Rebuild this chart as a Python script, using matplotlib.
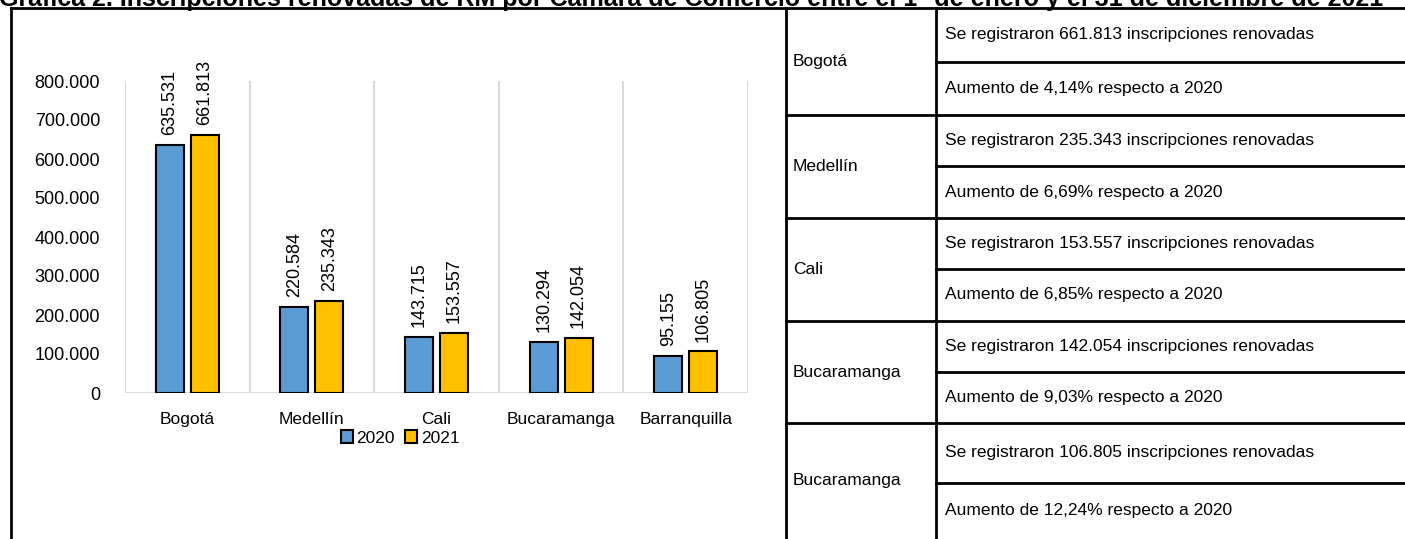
import matplotlib
matplotlib.use('Agg')
import matplotlib.pyplot as plt

plt.rcParams['font.family'] = ['Liberation Sans', 'DejaVu Sans']

cities = ['Bogotá', 'Medellín', 'Cali', 'Bucaramanga', 'Barranquilla']
values_2020 = [635531, 220584, 143715, 130294, 95155]
values_2021 = [661813, 235343, 153557, 142054, 106805]
y_ticks = [0, 100000, 200000, 300000, 400000, 500000, 600000, 700000, 800000]

table_cities = ['Bogotá', 'Medellín', 'Cali', 'Bucaramanga', 'Bucaramanga']
table_totals = ['661.813', '235.343', '153.557', '142.054', '106.805']
table_pcts = ['4,14', '6,69', '6,85', '9,03', '12,24']

title = ('Gráfica 2. Inscripciones renovadas de RM por Cámara de Comercio '
         'entre el 1° de enero y el 31 de diciembre de 2021')

W, H = 1405, 539
blue = '#5B9BD5'
yellow = '#FFC000'


def fmt(v):
    return f'{v:,}'.replace(',', '.')


fig = plt.figure(figsize=(W / 100, H / 100), dpi=100)

# overlay in pixel coordinates for the frame and the table
ov = fig.add_axes([0, 0, 1, 1])
ov.set_xlim(0, W)
ov.set_ylim(H, 0)
ov.axis('off')

# the title is cut at the top edge in the original
ov.text(-1, 6, title, fontsize=18, fontweight='bold', ha='left', va='baseline')

lw = 2
ov.plot([11, W], [8, 8], color='black', lw=lw)
ov.plot([11, 11], [8, H + 5], color='black', lw=lw)
ov.plot([786, 786], [8, H + 5], color='black', lw=lw)
ov.plot([936, 936], [8, H + 5], color='black', lw=lw)

row_edges = [8, 115, 218, 321, 423, 560]
row_splits = [62, 166, 269, 372, 483]
for i in range(len(table_cities)):
    top, bot, mid = row_edges[i], row_edges[i + 1], row_splits[i]
    if i > 0:
        ov.plot([786, W], [top, top], color='black', lw=lw)
    ov.plot([936, W], [mid, mid], color='black', lw=lw)
    cy = (top + min(bot, H)) / 2
    ov.text(793, cy, table_cities[i], fontsize=12.5, va='center', ha='left')
    ov.text(945, (top + mid) / 2, f'Se registraron {table_totals[i]} inscripciones renovadas',
            fontsize=12.5, va='center', ha='left')
    ov.text(945, (mid + min(bot, H)) / 2, f'Aumento de {table_pcts[i]}% respecto a 2020',
            fontsize=12.5, va='center', ha='left')

# bar chart
ax = fig.add_axes([125 / W, 1 - 393 / H, (748 - 125) / W, (393 - 81) / H])
x = list(range(len(cities)))
bw = 0.225
off = 0.14
b1 = ax.bar([i - off for i in x], values_2020, bw, color=blue, edgecolor='black', lw=1.5,
            label='2020', zorder=3)
b2 = ax.bar([i + off for i in x], values_2021, bw, color=yellow, edgecolor='black', lw=1.5,
            label='2021', zorder=3)

for bars, vals in [(b1, values_2020), (b2, values_2021)]:
    for rect, v in zip(bars, vals):
        ax.annotate(fmt(v), (rect.get_x() + rect.get_width() / 2, v),
                    xytext=(0, 7), textcoords='offset points', rotation=90,
                    ha='center', va='bottom', fontsize=13)

ax.set_xlim(-0.5, len(cities) - 0.5)
ax.set_ylim(0, 800000)
for s in ax.spines.values():
    s.set_visible(False)
for b in [i - 0.5 for i in range(len(cities) + 1)]:
    ax.axvline(b, color='#D9D9D9', lw=1.5, zorder=1)
ax.axhline(0, color='#D9D9D9', lw=2, zorder=2)

ax.set_yticks(y_ticks)
ax.set_yticklabels([fmt(v) for v in y_ticks], fontsize=13)
ax.set_xticks(x)
ax.set_xticklabels(cities, fontsize=12.5)
ax.tick_params(axis='both', length=0)
ax.tick_params(axis='y', pad=18)
ax.tick_params(axis='x', pad=14)

ax.legend(loc='center', bbox_to_anchor=(400 / W, 1 - 438 / H), bbox_transform=fig.transFigure,
          ncol=2, frameon=False, fontsize=12.5, handlelength=0.7, handleheight=0.7,
          handletextpad=0.2, columnspacing=0.6)

fig.savefig('out.png', dpi=100)
